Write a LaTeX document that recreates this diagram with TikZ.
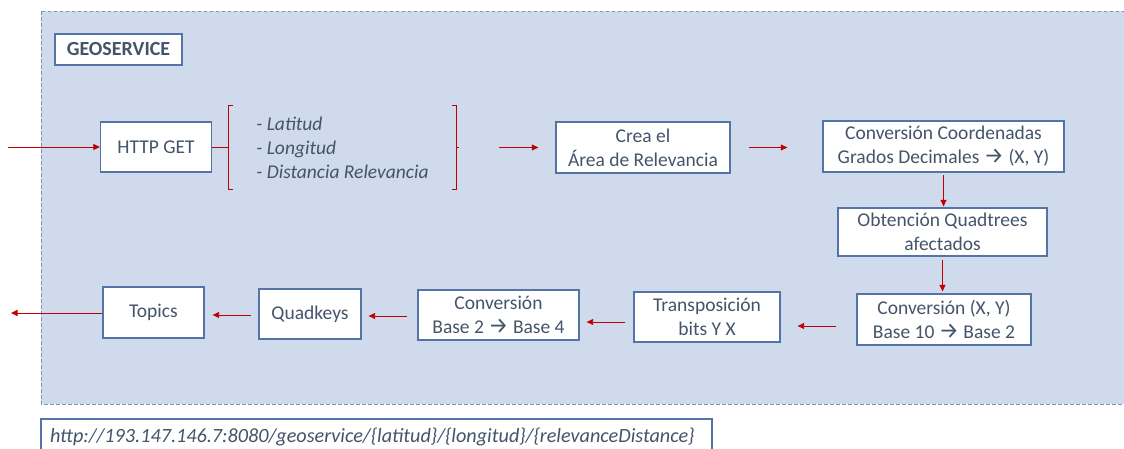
\documentclass[tikz,border=0pt]{standalone}
\usepackage{fontspec}
\setmainfont{Carlito}
\newfontfamily\arrowfont{Fira Sans}
\usetikzlibrary{arrows.meta}

\definecolor{panelfill}{HTML}{CFDAEC}
\definecolor{paneledge}{HTML}{8096B6}
\definecolor{boxedge}{HTML}{5474A8}
\definecolor{txt}{HTML}{44546A}
\definecolor{flow}{HTML}{C00000}

\newcommand{\toarrow}{{\arrowfont\fontsize{22.5}{24}\selectfont →}}

\tikzset{
  stage/.style={draw=boxedge, line width=1.3pt, fill=white, text=txt,
    align=center, inner sep=0pt, font=\fontsize{19.5}{24}\selectfont},
  flowline/.style={draw=flow, line width=0.9pt},
  flowarrow/.style={flowline, -{Triangle[length=6.5pt,width=6pt]}},
}

\begin{document}
\begin{tikzpicture}[x=1pt,y=-1pt]
\useasboundingbox (0,0) rectangle (1124,448);

% service panel
\draw[fill=panelfill, draw=paneledge, line width=1pt, dash pattern=on 3.5pt off 2.5pt]
  (41,11) rectangle (1150,404);

\node[stage, minimum width=127pt, minimum height=31pt,
      font=\bfseries\fontsize{20}{22}\selectfont] (geo) at (118.5,49.5) {GEOSERVICE};

% first row
\node[stage, minimum width=111pt, minimum height=50pt] (http) at (156,147) {HTTP GET};
\node[text=txt, align=left, inner sep=0pt, minimum width=227pt, minimum height=83pt,
      font=\itshape\fontsize{19.5}{24}\selectfont] (params) at (342.5,147.5)
  {- Latitud\\- Longitud\\- Distancia Relevancia};
\node[stage, minimum width=174pt, minimum height=51pt] (crea) at (643,147.5)
  {Crea el\\Área de Relevancia};
\node[stage, minimum width=241pt, minimum height=51pt] (conv) at (943.5,146.5)
  {Conversión Coordenadas\\Grados Decimales \toarrow{} (X, Y)};

% right column
\node[stage, minimum width=209pt, minimum height=48pt] (obt) at (942.5,232)
  {Obtención Quadtrees\\afectados};
\node[stage, minimum width=174pt, minimum height=51pt] (conv2) at (944,319.5)
  {Conversión (X, Y)\\Base 10 \toarrow{} Base 2};

% second row
\node[stage, minimum width=146pt, minimum height=50pt] (trans) at (707,317)
  {Transposición\\bits Y X};
\node[stage, minimum width=161pt, minimum height=50pt] (base) at (498.5,315)
  {Conversión\\Base 2 \toarrow{} Base 4};
\node[stage, minimum width=102pt, minimum height=50pt] (quad) at (310,314) {Quadkeys};
\node[stage, minimum width=101pt, minimum height=51pt] (topics) at (153.5,312.5) {Topics};

% endpoint
\node[stage, text width=653pt, align=left, inner xsep=9pt, minimum height=36pt,
      font=\itshape\fontsize{20.2}{24}\selectfont]
  (url) at (376.5,437)
  {http://193.147.146.7:8080/geoservice/\{latitud\}/\{longitud\}/\{relevanceDistance\}};

\coordinate (in) at (8,147);
\coordinate (out) at (11,313);

% parameter brackets
\draw[flowline, line width=0.7pt]
  ([xshift=4pt]params.north west) -- (params.north west) -- (params.south west)
  -- ([xshift=4pt]params.south west);
\draw[flowline, line width=0.7pt]
  ([xshift=-4pt]params.north east) -- (params.north east) -- (params.south east)
  -- ([xshift=-4pt]params.south east);
\draw[flowline, line width=0.7pt] (params.east) -- ++(3,0);

% connectors
\draw[flowarrow] (in) -- (http.west);
\draw[flowline] (http.east) -- (http.east -| params.west);
\draw[flowarrow, shorten <=43pt, shorten >=17pt] (params.east) -- (params.east -| crea.west);
\draw[flowarrow, shorten <=18pt, shorten >=35pt] (crea.east) -- (crea.east -| conv.west);
\draw[flowarrow, shorten <=2pt, shorten >=1pt] (conv.south) -- (conv.south |- obt.north);
\draw[flowarrow, shorten <=3pt, shorten >=2pt] (obt.south) -- (obt.south |- conv2.north);
\draw[flowarrow, shorten <=20pt, shorten >=17pt] ([yshift=-6.5pt]conv2.west) -- ([yshift=-6.5pt]conv2.west -| trans.east);
\draw[flowarrow, shorten <=8pt, shorten >=7pt] ([yshift=-5pt]trans.west) -- ([yshift=-5pt]trans.west -| base.east);
\draw[flowarrow, shorten <=10pt, shorten >=7pt] ([yshift=-1pt]base.west) -- ([yshift=-1pt]base.west -| quad.east);
\draw[flowarrow, shorten <=7pt, shorten >=8pt] ([yshift=-1pt]quad.west) -- ([yshift=-1pt]quad.west -| topics.east);
\draw[flowarrow] ([yshift=-0.5pt]topics.west) -- (out);
\end{tikzpicture}
\end{document}
